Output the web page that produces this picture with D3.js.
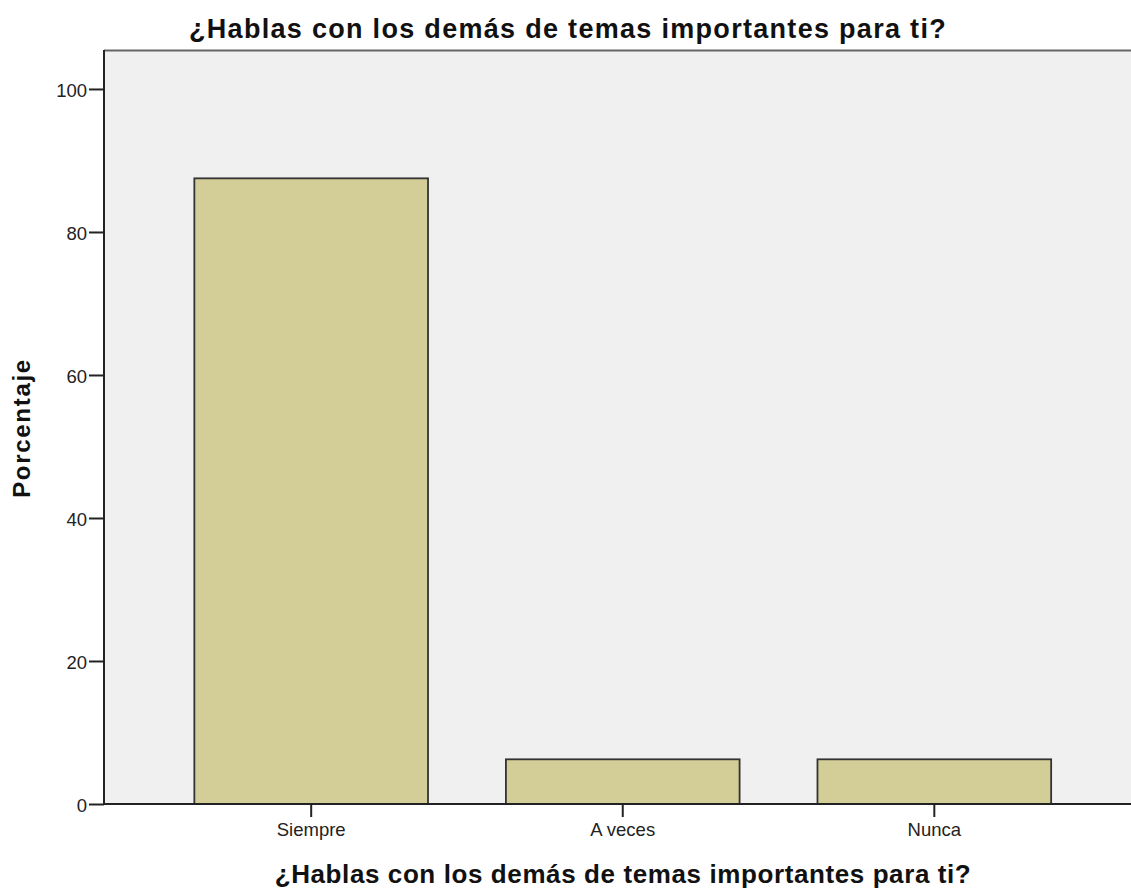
<!DOCTYPE html>
<html><head><meta charset="utf-8">
<script src="https://cdn.jsdelivr.net/npm/d3@7"></script>
<style>body{margin:0;background:#fff;}svg{display:block;font-family:"Liberation Sans",Arial,sans-serif;}</style>
</head><body><div id="chart"></div>
<script>
const title = "¿Hablas con los demás de temas importantes para ti?";
const xTitle = "¿Hablas con los demás de temas importantes para ti?";
const yTitle = "Porcentaje";
const categories = ["Siempre", "A veces", "Nunca"];
const values = [87.5, 6.25, 6.25];
const yTicks = [0, 20, 40, 60, 80, 100];

const W = 1131, H = 888;
const svg = d3.select("#chart").append("svg").attr("width", W).attr("height", H);
const mLeft = 104, mTop = 50, mBottom = 804, rightRange = 1141.5;

const x = d3.scaleBand().domain(categories).range([mLeft, rightRange]).paddingInner(0.25).paddingOuter(0.29);
const y = d3.scaleLinear().domain([0, 105.45]).range([mBottom, mTop]);

svg.append("rect").attr("x", mLeft).attr("y", mTop).attr("width", W - mLeft).attr("height", mBottom - mTop)
  .attr("fill", "#f0f0f0");
svg.append("line").attr("x1", mLeft).attr("x2", W).attr("y1", mTop + 0.5).attr("y2", mTop + 0.5)
  .attr("stroke", "#666").attr("stroke-width", 2);

svg.selectAll("rect.bar").data(values).join("rect").attr("class", "bar")
  .attr("x", (d, i) => x(categories[i]))
  .attr("y", d => y(d))
  .attr("width", x.bandwidth())
  .attr("height", d => mBottom - y(d))
  .attr("fill", "#d3ce97").attr("stroke", "#333").attr("stroke-width", 1.8);

const yAxis = svg.append("g").attr("transform", `translate(${mLeft},0)`)
  .call(d3.axisLeft(y).tickValues(yTicks).tickSize(15).tickSizeOuter(0).tickPadding(2));
const xAxis = svg.append("g").attr("transform", `translate(0,${mBottom})`)
  .call(d3.axisBottom(x).tickSize(13).tickSizeOuter(0).tickPadding(6));
[yAxis, xAxis].forEach(g => {
  g.selectAll("path.domain").attr("stroke", "#222").attr("stroke-width", 2);
  g.selectAll(".tick line").attr("stroke", "#222").attr("stroke-width", 2);
  g.selectAll(".tick text").attr("font-size", 18.5).attr("fill", "#222").attr("font-family", "Liberation Sans, Arial, sans-serif");
});
yAxis.selectAll(".tick text").attr("dy", "0.42em");
xAxis.select("path.domain").attr("d", `M${mLeft},0H${W}`);
yAxis.select("path.domain").attr("d", `M0,${mTop}V${mBottom}`);

svg.append("text").attr("x", 568).attr("y", 38).attr("text-anchor", "middle")
  .attr("font-size", 27).attr("font-weight", "bold").attr("letter-spacing", 1.3).attr("fill", "#111").text(title);
svg.append("text").attr("x", 623).attr("y", 883).attr("text-anchor", "middle")
  .attr("font-size", 26).attr("font-weight", "bold").attr("letter-spacing", 0.6).attr("fill", "#111").text(xTitle);
svg.append("text").attr("transform", "translate(30,428) rotate(-90)").attr("text-anchor", "middle")
  .attr("font-size", 24).attr("font-weight", "bold").attr("letter-spacing", 1.7).attr("fill", "#111").text(yTitle);
</script></body></html>
